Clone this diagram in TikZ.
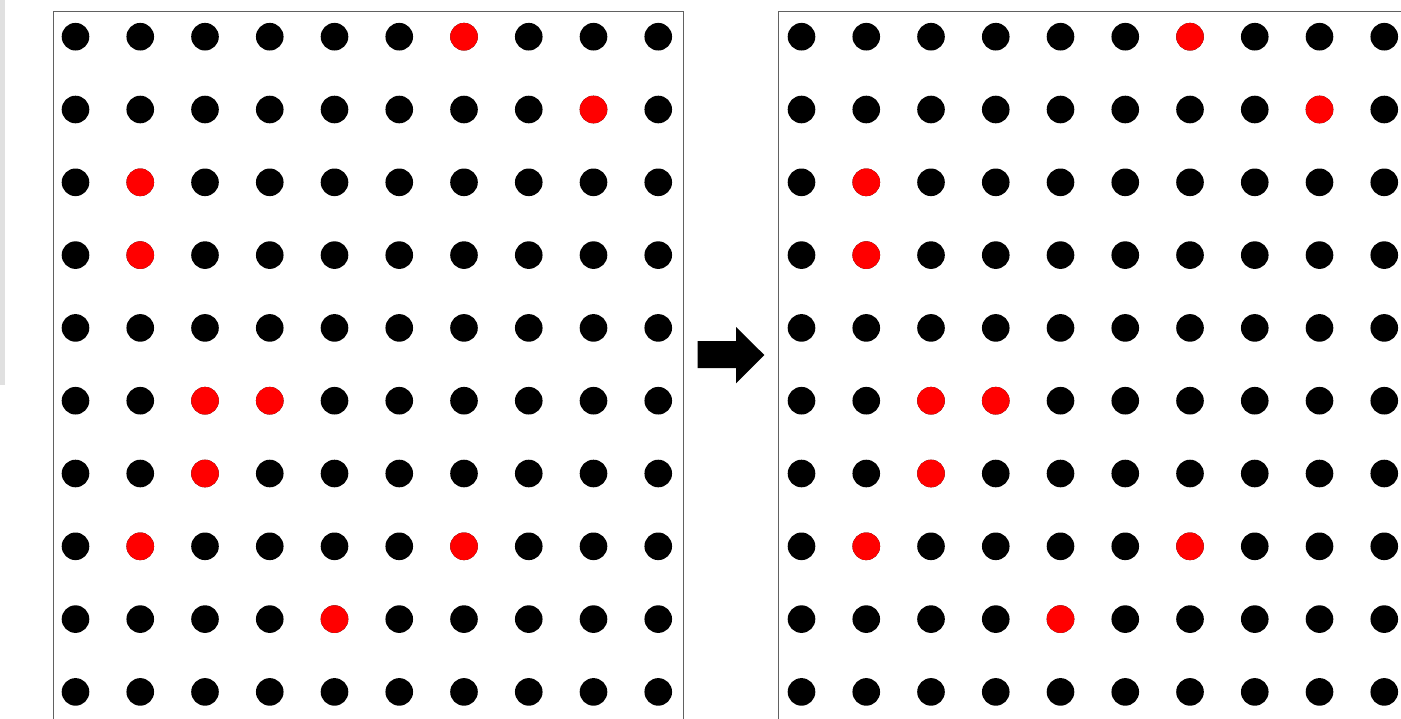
\documentclass[tikz,border=0pt]{standalone}
\usepackage{tikz}
\usetikzlibrary{positioning,calc}

\begin{document}
\begin{tikzpicture}[
    x=0.025cm, y=-0.025cm,
    dot/.style={circle, fill=black, inner sep=0pt, minimum size=0.69cm},
    hot/.style={dot, fill=red},
    panel/.style={draw=black!62, line width=0.7pt}
]
\useasboundingbox (0,0) rectangle (1401,718);
\clip (0,0) rectangle (1401,718);

% Gray strip at the left edge
\fill[black!12] (0,0) rectangle (5,385);

% Panels
\draw[panel] (53.5,11) rectangle (683,740);
\draw[panel] (778.5,11) rectangle (1420,740);

% Grid of dots (L = before, R = after)
\foreach \p/\dx in {L/0, R/726} {
  \foreach \r in {0,...,9} {
    \foreach \c in {0,...,9} {
      \node[dot] (\p-\r-\c) at (75.5+\dx+64.75*\c, 36.7+72.8*\r) {};
    }
  }
  % Marked dots
  \foreach \r/\c in {0/6, 1/8, 2/1, 3/1, 5/2, 5/3, 6/2, 7/1, 7/6, 8/4} {
    \node[hot] (\p-hot-\r-\c) at (\p-\r-\c) {};
  }
}

% Arrow between panels
\coordinate (tail) at (697.7,354.5);
\coordinate (tip) at (764.3,355);
\fill[black] ($(tail)+(0,-13.5)$) -- (736,341) -- (736,327) -- (tip)
    -- (736,383.3) -- (736,368) -- ($(tail)+(0,13.5)$) -- cycle;

\end{tikzpicture}
\end{document}
